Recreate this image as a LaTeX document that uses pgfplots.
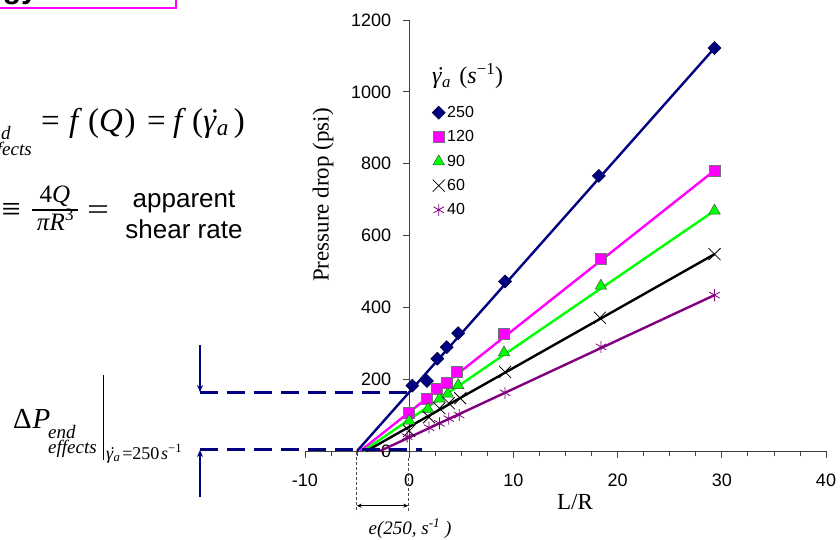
\documentclass[border=0pt]{standalone}
\usepackage{fontspec}
\setmainfont{Liberation Sans}
\newfontfamily\tnr{Liberation Serif}
\usepackage{pgfplots}
\pgfplotsset{compat=1.18}
\usetikzlibrary{arrows.meta}
\definecolor{navy}{RGB}{0,0,128}
\definecolor{navyd}{RGB}{0,0,60}
\definecolor{mag}{RGB}{255,0,255}
\definecolor{grn}{RGB}{0,255,0}
\definecolor{purp}{RGB}{128,0,128}
\newcommand\fs[1]{\fontsize{#1}{#1}\selectfont}
\newcommand\gdot{\ooalign{\textit{γ}\cr\hidewidth\kern0.18em\textit{˙}\hidewidth\cr}}
\begin{document}
\begin{tikzpicture}
\begin{axis}[
  at={(305pt,-451pt)}, anchor=south west,
  scale only axis, width=521pt, height=431pt,
  xmin=-10, xmax=40, ymin=0, ymax=1200,
  axis x line=bottom, axis y line=center,
  axis line style={-, draw=black!75, line width=0.8pt},
  xtick={-10,0,10,20,30,40}, minor x tick num=3,
  ytick={0,200,400,600,800,1000,1200},
  tick align=outside,
  major tick length=6.5pt, minor tick length=5pt,
  every tick/.style={black!75, line width=0.8pt},
  hide obscured x ticks=false, hide obscured y ticks=false,
  ticklabel style={font=\fs{18}},
  xticklabel style={yshift=-13pt},
  yticklabel style={xshift=-8pt},
  /pgf/number format/assume math mode=true,
  /pgf/number format/1000 sep={},
  clip=false,
  legend style={draw=none, fill=none, at={(0.2438,0.8005)}, anchor=north west,
    font=\fs{16}, inner sep=0pt, row sep=11.5pt, column sep=2pt, nodes={inner sep=0pt}},
  legend cell align=left,
  legend image code/.code={\draw[#1] plot coordinates {(0pt,0pt)};},
]
% trendlines
\addplot[forget plot, navy, line width=2.4pt] coordinates {(-5,0) (29.3,1122)};
\addplot[forget plot, mag, line width=2.4pt] coordinates {(-4.7,0) (29.3,781)};
\addplot[forget plot, grn, line width=2.4pt] coordinates {(-4.4,0) (29.3,669)};
\addplot[forget plot, black, line width=2.4pt] coordinates {(-4.1,0) (29.3,548)};
\addplot[forget plot, purp, line width=2.4pt] coordinates {(-2.8,0) (29.3,434)};
% data
\addplot[only marks, mark=square*, mark size=4.6pt, mark options={rotate=45, fill=navy, draw=navyd, line width=0.6pt}]
  coordinates {(0.3,182) (1.7,195) (2.7,257) (3.6,289) (4.7,328) (9.2,472) (18.2,766) (29.3,1122)};
\addlegendentry{250}
\addplot[only marks, mark=square*, mark size=5.5pt, mark options={fill=mag, draw=black!55, line width=0.7pt}]
  coordinates {(0,107) (1.7,145) (2.7,172) (3.6,190) (4.6,221) (9.1,326) (18.4,534) (29.3,781)};
\addlegendentry{120}
\addplot[only marks, mark=triangle*, mark size=6.6pt, mark options={fill=grn, draw=black!70, line width=0.5pt}]
  coordinates {(0,84) (1.8,117) (2.9,145) (3.7,159) (4.7,183) (9.1,274) (18.4,460) (29.3,669)};
\addlegendentry{90}
\addplot[only marks, mark=x, mark size=8.5pt, mark options={draw=black, line width=0.8pt}]
  coordinates {(0,56) (1.9,94) (2.9,119) (3.8,133) (4.9,147) (9.2,220) (18.3,371) (29.3,548)};
\addlegendentry{60}
\addplot[only marks, mark=asterisk, mark size=6pt, mark options={draw=purp, line width=0.8pt}]
  coordinates {(-0.2,40) (1.9,65) (2.9,77) (3.8,90) (4.8,100) (9.2,162) (18.4,290) (29.3,434)};
\addlegendentry{40}
\end{axis}
\begin{scope}[x=1pt,y=-1pt]
% axis labels
\node[rotate=90] at (323,195) {\tnr\fs{23}Pressure drop (psi)};
\node at (575,502) {\tnr\fs{23}L/R};
% legend title
\node[anchor=base west, inner sep=0pt] at (432,84) {\tnr\fs{24}\gdot\textsubscript{\textit{a}}\hspace{0.35em}(\textit{s}\textsuperscript{−1})};
% top box
\draw[mag, line width=2pt] (-10,-40) rectangle (176,8);
\node[anchor=base east, inner sep=0pt] at (38,-1) {\fs{30}\bfseries Rheology};
% formula 1
\node[anchor=base west, inner sep=0pt] at (-17,140) {\tnr\fs{19}\itshape end};
\node[anchor=base west, inner sep=0pt] at (-17,156) {\tnr\fs{19}\itshape effects};
\node[anchor=base west, inner sep=0pt] at (41,132) {\tnr\fs{33}=};
\node[anchor=base west, inner sep=0pt] at (69,132) {\tnr\fs{33}\textit{f}\hspace{0.18em}(\textit{Q}\hspace{0.05em})};
\node[anchor=base west, inner sep=0pt] at (147,132) {\tnr\fs{33}=};
\node[anchor=base west, inner sep=0pt] at (173,132) {\tnr\fs{33}\textit{f}\hspace{0.18em}(\gdot\textsubscript{\textit{a}}\hspace{0.15em})};
% formula 2
\node[anchor=base east, inner sep=0pt] at (21,220) {\tnr\fs{34}≡};
\node[anchor=base, inner sep=0pt] at (55,203) {\tnr\fs{25}4\textit{Q}};
\node[anchor=base, inner sep=0pt] at (55.5,230) {\tnr\fs{25}\textit{πR}\textsuperscript{3}};
\draw[line width=1.2pt] (32,210) -- (78,210);
\node[anchor=base west, inner sep=0pt] at (87,219) {\tnr\fs{30}\scalebox{1.3}[1]{=}};
\node[anchor=base, inner sep=0pt] at (184,207.5) {\fs{26}apparent};
\node[anchor=base, inner sep=0pt] at (184,238) {\fs{26}shear rate};
% lower label
\node[anchor=base west, inner sep=0pt] at (13,428) {\tnr\fs{29}Δ\kern0.03em\textit{P}};
\node[anchor=base west, inner sep=0pt] at (48,438) {\tnr\fs{19}\itshape end};
\node[anchor=base west, inner sep=0pt] at (48,453) {\tnr\fs{19}\itshape effects};
\draw[line width=0.8pt] (103,375) -- (103,460);
\node[anchor=base west, inner sep=0pt] at (106,459) {\tnr\fs{18}\gdot\textsubscript{\textit{a}}\hspace{0.1em}=250\hspace{0.1em}\textit{s}\textsuperscript{−1}};
% arrows and dashed lines
\draw[navy, line width=1.5pt, -{Stealth[length=7pt,width=6pt]}] (200,345) -- (200,392);
\draw[navy, line width=1.5pt, -{Stealth[length=7pt,width=6pt]}] (200,497) -- (200,450);
\draw[navy, line width=3pt, dash pattern=on 18pt off 9pt] (200,392.5) -- (410,392.5);
\draw[navy, line width=3pt, dash pattern=on 18pt off 9pt] (200,449) -- (422,449);
% dimension e(250)
\draw[black!70, line width=0.6pt, dash pattern=on 3pt off 2pt] (356.7,452) -- (356.7,512);
\draw[black!70, line width=0.6pt, dash pattern=on 3pt off 2pt] (408.3,458) -- (408.3,512);
\draw[black, line width=0.7pt, {Stealth[length=5pt,width=4pt]}-{Stealth[length=5pt,width=4pt]}] (356.7,505.7) -- (408.3,505.7);
\node[anchor=base, inner sep=0pt] at (410,534) {\tnr\fs{19}\itshape e(250, s\textsuperscript{-1} )};
\end{scope}
\pgfresetboundingbox
\path[use as bounding box] (0pt,0pt) rectangle (840pt,-540pt);
\end{tikzpicture}
\end{document}
